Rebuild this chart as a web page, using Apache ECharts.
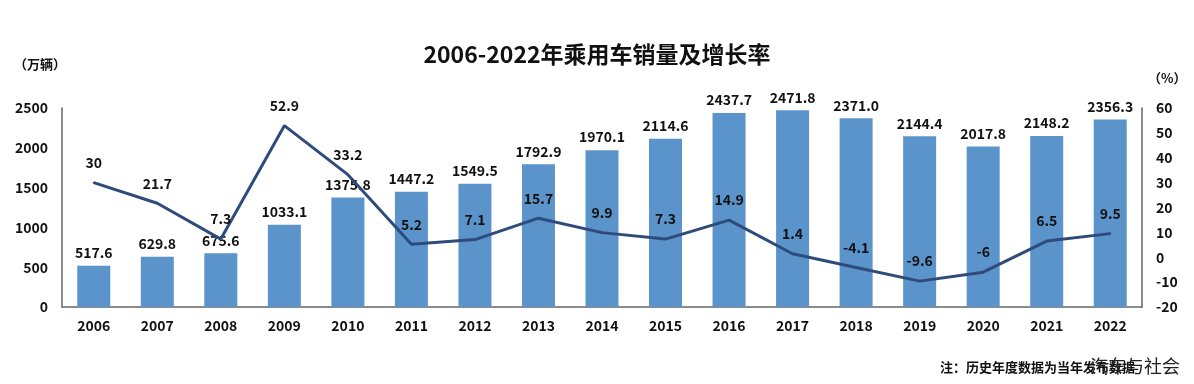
<!DOCTYPE html>
<html><head><meta charset="utf-8">
<script src="https://cdn.jsdelivr.net/npm/echarts@6/dist/echarts.min.js"></script>
<style>html,body{margin:0;padding:0;background:#fff;}#c{width:1194px;height:384px;}</style>
</head><body><div id="c"></div>
<script>
const years = ['2006','2007','2008','2009','2010','2011','2012','2013','2014','2015','2016','2017','2018','2019','2020','2021','2022'];
const sales = [517.6,629.8,675.6,1033.1,1375.8,1447.2,1549.5,1792.9,1970.1,2114.6,2437.7,2471.8,2371.0,2144.4,2017.8,2148.2,2356.3];
const growth = [30,21.7,7.3,52.9,33.2,5.2,7.1,15.7,9.9,7.3,14.9,1.4,-4.1,-9.6,-6,6.5,9.5];
const leftTicks = [0,500,1000,1500,2000,2500];
const rightTicks = [-20,-10,0,10,20,30,40,50,60];
const F = '"Noto Sans CJK SC","Noto Sans",sans-serif';
const chart = echarts.init(document.getElementById('c'));
chart.setOption({
  animation:false,
  backgroundColor:'#fff',
  textStyle:{fontFamily:F},
  title:{text:'2006-2022年乘用车销量及增长率',left:'center',top:38,textStyle:{fontFamily:F,fontWeight:'bold',fontSize:23,color:'#111'}},
  graphic:[
    {type:'text',left:14,top:58,style:{text:'（万辆）',font:'bold 13px '+F,fill:'#111'}},
    {type:'text',left:1148,top:72,style:{text:'（%）',font:'bold 13px '+F,fill:'#111'}},
    {type:'text',left:940,top:361,style:{text:'注：历史年度数据为当年发布数据',font:'bold 13px '+F,fill:'#111'}},
    {type:'text',left:1090,top:357,style:{text:'汽车与社会',font:'18px '+F,fill:'#222'}}
  ],
  grid:{left:62,right:52,top:108,bottom:77},
  xAxis:{type:'category',data:years,axisTick:{show:false},
    axisLine:{lineStyle:{color:'#666',width:1.5}},
    axisLabel:{fontFamily:F,fontWeight:'bold',fontSize:14,color:'#111',margin:12}},
  yAxis:[
    {type:'value',min:leftTicks[0],max:leftTicks[leftTicks.length-1],interval:500,splitLine:{show:false},
      axisLine:{show:true,lineStyle:{color:'#666',width:1.5}},axisTick:{show:false},
      axisLabel:{fontFamily:F,fontWeight:'bold',fontSize:14,color:'#111',margin:14,formatter:v=>String(v)}},
    {type:'value',min:rightTicks[0],max:rightTicks[rightTicks.length-1],interval:10,splitLine:{show:false},
      axisLine:{show:true,lineStyle:{color:'#666',width:1.5}},axisTick:{show:false},
      axisLabel:{fontFamily:F,fontWeight:'bold',fontSize:14,color:'#111',margin:14,formatter:v=>String(v)}}
  ],
  series:[
    {type:'bar',data:sales,barWidth:33,itemStyle:{color:'#5B93CB'},z:2,
      label:{show:true,position:'top',distance:6,fontFamily:F,fontWeight:'bold',fontSize:14,color:'#111',
        formatter:p=>p.value.toFixed(1)}},
    {type:'line',yAxisIndex:1,data:growth,symbol:'circle',symbolSize:2,showSymbol:true,z:3,
      lineStyle:{color:'#2F4B7C',width:3},
      itemStyle:{color:'#2F4B7C'},
      labelLayout:{hideOverlap:false},
      label:{show:true,position:'top',distance:12,fontFamily:F,fontWeight:'bold',fontSize:14,color:'#111'}}
  ]
});
</script></body></html>
